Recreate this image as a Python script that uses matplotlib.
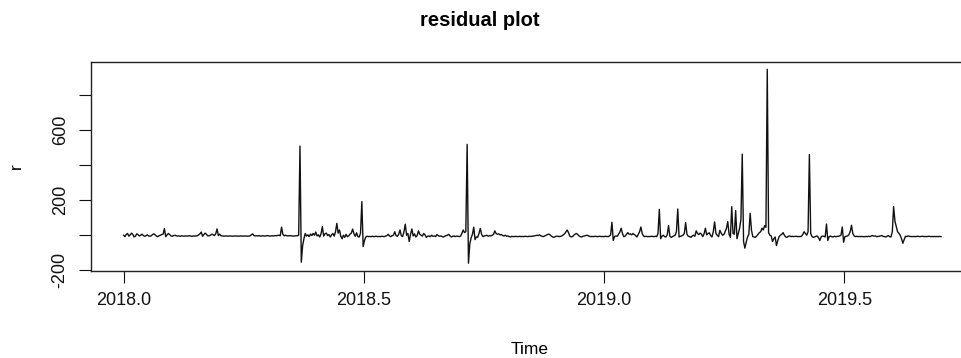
import numpy as np
import matplotlib
matplotlib.use("Agg")
import matplotlib.pyplot as plt

plt.rcParams['font.family'] = ['Liberation Sans', 'DejaVu Sans']

# Daily residuals, series starts at 2018.0 with frequency 365
start_year = 2018.0
freq = 365

r_days_000_059 = [0, -8, 5, 10, -5, 2, 12, 5, -10, -5, 8, 3, -4, 0, 6, -2, -6, -3, 2,
                  -4, -6, -3, 4, 8, 2, -5, -8, -3, 0, 4, 6,
                  38, -8, 2, 10, 4, -4, -6, -2, 0, -3, -5, -4, -6, -3, -5,
                  -5, -4, -5, -4, -3, -5, -6, -4, -5, -4, -3, 2, 8, 18]
r_days_060_119 = [-6, 4, 12, 5, -4, -3, 0, 6, 3, -2, 8, 36, -2, 6, -3,
                  -4, -5, -5, -4, -5, -5, -4, -5, -5, -5, -4, -5, -5, -5, -4, -5, -5, -4, -5, -5, -5, -4, 2, 8, -2, -4,
                  -3, -4, -2, -5, -4, -3, -5, -4, -2, -3, -5, -4, -3, -4, -2, -3, -1, 0, -3]
r_days_120_179 = [46, 5, -3, 0, -3, -4, -2, -3, -4, -5, -4, -3, -3, 0,
                  509, -154, -60, -20, 10, -5, 2, -8,
                  7, -2, 10, 0, 18, -4, 2, -10, 8, 49,
                  -5, 8, 12, -2, 4, -10, 2, 10, -5, 20,
                  68, 12, 30, -5, -20, 0, -12, 5, -8, -4,
                  6, 12, 35, 8, -6, 14, -8, -10]
r_days_180_239 = [12, 192, -65, -30, -10, -6, -8, -7, -8, -6,
                  -8, -7, -6, -8, -7, -8, -6, -7, -8, -5,
                  -2, 5, -4, -8, -3, 0, 20, -2, -6, 5,
                  30, -3, -8, 20, 63, 0, 10, -36, 5, 36,
                  -4, 8, -10, -2, 25, 6, 0, -5, 10, 2,
                  -12, -6, -4, -8, 0, -6, -4, -8, 4, -2]
r_days_240_299 = [-6, -4, -8, -10, -6, -2, 0, 5, -4, -10,
                  -6, -4, -8, -5, -6, -8, -5, 10, 30, 15,
                  20, 519, -160, -50, -15, 5, 46, -25, -10, -12,
                  10, 39, 5, -8, -4, -2, 0, -6, -2, -4,
                  0, 4, 25, 10, 6, 8, 2, 4, -2, -4,
                  0, -6, -4, -8, -10, -6, -8, -8, -6, -8]
r_days_300_359 = [-8, -6, -8, -7, -8, -6, -7, -8, -6, -7,
                  -6, -5, -4, -2, 0, -2, 2, -3, -6, -8,
                  -4, 0, 4, 7, 2, -5, -10, -12, -8, -5,
                  -6, -8, -6, -4, 2, 8, 18, 30, 15, -5,
                  -10, -8, 0, 6, 10, 4, -4, -8, -10, -6,
                  -4, -2, 0, -3, -6, -8, -7, -8, -6, -7]
r_days_360_419 = [-8, -7, -6, -8, -7, -8, -6, -7, -8, -5,
                  2, 74, -30, -8, -4, -6, 5, 18, 40, 10,
                  -8, -5, 4, 15, 6, 8, 2, 10, 4, -2,
                  -10, 5, 20, 47, 10, -5, -8, -6, -8, -7,
                  -8, -6, -7, -8, -6, -8, 10, 148, -20, -5,
                  0, -8, -10, 2, 55, -6, -12, -8, -4, 0]
r_days_420_479 = [20, 150, -10, -6, -4, 0, 10, 72, 5, -6,
                  -8, -12, -4, 0, -6, 25, 10, 4, 12, 6,
                  -8, 8, 40, 2, 10, 14, -2, -10, 20, 76,
                  10, 0, -8, 28, 12, 0, 4, 20, 40, 78,
                  5, -12, 163, 10, 6, 141, -20, 10, 40, 90,
                  463, -36, -74, -40, -10, 5, 125, 30, -8, -10]
r_days_480_539 = [-12, -4, 5, 15, 20, 40, 30, 55, 45, 948,
                  15, 0, -4, -36, -20, -10, -59, -30, -8, 0,
                  5, 15, 0, -10, -12, -6, -4, -8, -6, -8,
                  -7, -6, -8, -7, -8, -6, 5, 20, 10, 0,
                  20, 461, 10, -8, -12, -10, -6, -4, -15, -30,
                  -8, -5, -6, -10, 64, -30, -8, -5, -8, -10]
r_days_540_599 = [-6, -8, -7, -6, -4, 0, 47, -40, -8, -6,
                  -4, 2, 20, 57, 10, -4, -8, -6, -8, -7,
                  -8, -7, -8, -8, -7, -8, -6, -8, -4, -2,
                  -5, -4, -8, -7, -6, -4, -2, -6, -8, -10,
                  -6, -2, -8, -10, 20, 163, 80, 51, 20, 11,
                  0, -20, -46, -25, -6, -8, -4, -6, -8, -7]
r_days_600_621 = [-8, -7, -8, -6, -7, -8, -7, -6, -8, -7, -8,
                  -7, -6, -8, -7, -8, -7, -8, -7, -8, -7, -8]

x_ticks = [2018.0, 2018.5, 2019.0, 2019.5]
x_tick_labels = ["2018.0", "2018.5", "2019.0", "2019.5"]
y_ticks = [-200, 0, 200, 400, 600, 800]
y_tick_labels = ["-200", "", "200", "", "600", ""]

r = np.array(r_days_000_059 + r_days_060_119 + r_days_120_179 + r_days_180_239
             + r_days_240_299 + r_days_300_359 + r_days_360_419 + r_days_420_479
             + r_days_480_539 + r_days_540_599 + r_days_600_621, dtype=float)
t = start_year + np.arange(len(r)) / freq

W, H = 961, 358
fig = plt.figure(figsize=(W / 100, H / 100), dpi=100)
ax = fig.add_axes([90.9 / W, (H - 271) / H, 882.8 / W, 209.5 / H])

ax.plot(t, r, color="#111111", linewidth=1.0)

# R-style 4% padding around the data range
tspan = t[-1] - t[0]
rspan = r.max() - r.min()
ax.set_xlim(t[0] - 0.04 * tspan, t[-1] + 0.04 * tspan)
ax.set_ylim(r.min() - 0.04 * rspan, r.max() + 0.04 * rspan)

ax.set_xticks(x_ticks)
ax.set_xticklabels(x_tick_labels)
ax.set_yticks(y_ticks)
ax.set_yticklabels(y_tick_labels, rotation=90, va="center")
ax.tick_params(axis="both", direction="out", length=8.5, width=0.8,
               labelsize=13, colors="#111111")
ax.tick_params(axis="x", pad=6.5)
ax.tick_params(axis="y", pad=7.5)
for s in ax.spines.values():
    s.set_linewidth(1.0)
    s.set_color("#222222")

fig.text(480 / W, 1 - 20 / H, "residual plot", ha="center", va="center",
         fontsize=14.5, fontweight="bold")
fig.text(530 / W, 1 - 349 / H, "Time", ha="center", va="center", fontsize=12.5)
fig.text(16 / W, 1 - 166 / H, "r", ha="center", va="center", rotation=90,
         fontsize=12.5)

fig.savefig("out.png", dpi=100)
